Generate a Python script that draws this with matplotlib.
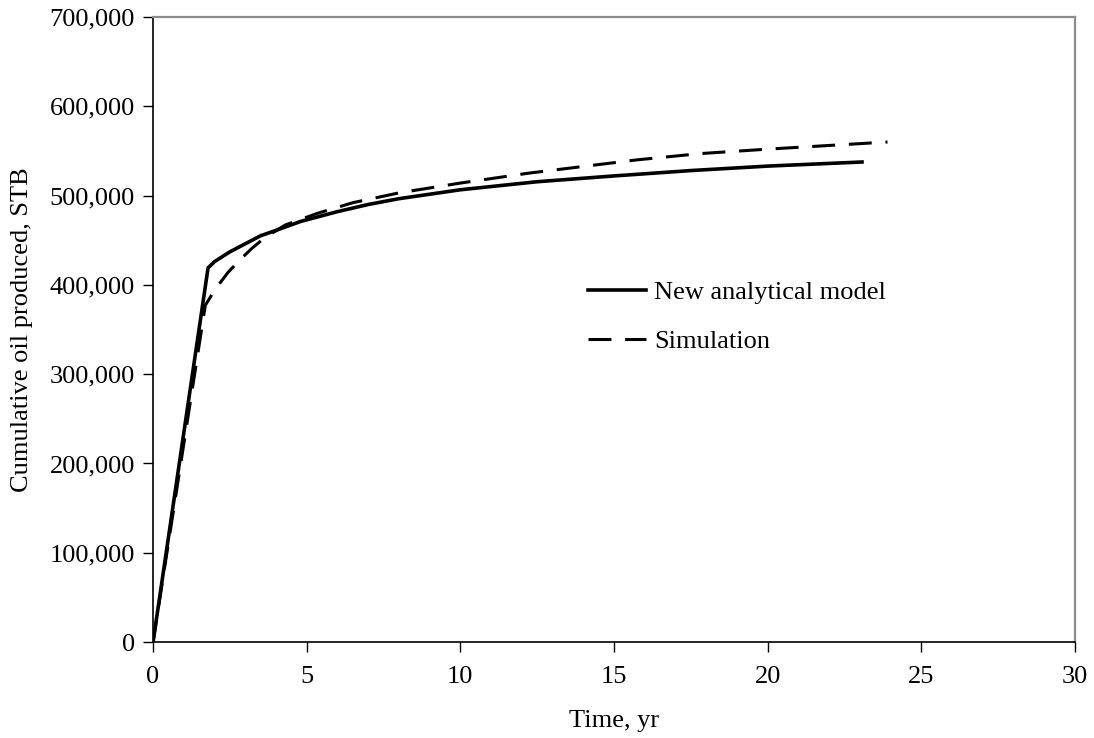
import numpy as np
import matplotlib.pyplot as plt
from matplotlib.ticker import FuncFormatter

# New analytical model
t_model = [0, 1.79, 2.0, 2.5, 3.0, 3.5, 4.0, 4.8, 6.0, 7.0, 8.0, 10.0, 12.5, 15.0, 17.5, 20.0, 23.07]
q_model = [0, 419000, 426000, 437000, 446000, 455000, 461000, 471000, 482000, 490000, 496500, 506500, 515500, 522000, 528000, 533000, 537600]

# Simulation
t_sim = [0, 1.7, 2.0, 2.44, 2.83, 3.22, 3.64, 4.3, 5.34, 6.5, 8.0, 10.0, 12.2, 15.75, 17.8, 20.0, 23.9]
q_sim = [0, 377000, 394000, 414000, 428000, 441000, 453000, 467000, 480000, 492000, 503000, 514000, 525000, 540000, 547000, 552000, 560000]

plt.rcParams['font.family'] = ['Liberation Serif', 'DejaVu Serif']

fig = plt.figure(figsize=(10.94, 7.38), dpi=100)
ax = fig.add_axes([0.1399, 0.130, 0.8427, 0.847])

ax.plot(t_model, q_model, color='black', lw=2.6, solid_joinstyle='round', label='New analytical model')
ax.plot(t_sim, q_sim, color='black', lw=2.2, dashes=(7.5, 4.5), label='Simulation')

ax.set_xlim(0, 30)
ax.set_ylim(0, 700000)
ax.set_xticks(np.arange(0, 31, 5))
ax.set_yticks(np.arange(0, 700001, 100000))
ax.yaxis.set_major_formatter(FuncFormatter(lambda v, p: f'{int(v):,}'))
ax.tick_params(direction='out', length=7, width=1, labelsize=19, pad=6)
ax.tick_params(axis='x', pad=10)

for s in ['top', 'right']:
    ax.spines[s].set_color('#8c8c8c')
    ax.spines[s].set_linewidth(1.6)
for s in ['left', 'bottom']:
    ax.spines[s].set_color('black')
    ax.spines[s].set_linewidth(1.2)

ax.set_xlabel('Time, yr', fontsize=19, labelpad=16)
ax.set_ylabel('Cumulative oil produced, STB', fontsize=19, labelpad=12)

ax.legend(loc='center left', bbox_to_anchor=(0.446, 0.52), frameon=False, fontsize=19,
          handlelength=2.2, handletextpad=0.3, labelspacing=0.95)

fig.savefig('out.png', dpi=100)
